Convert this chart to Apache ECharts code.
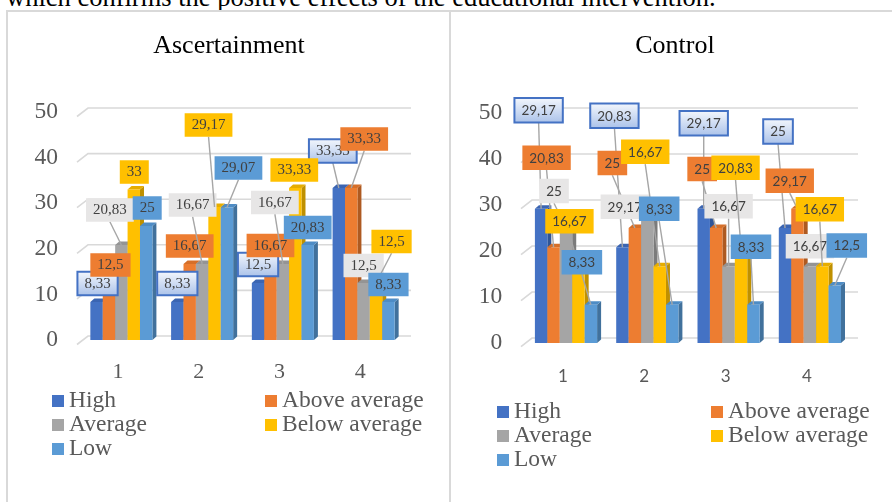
<!DOCTYPE html>
<html>
<head>
<meta charset="utf-8">
<script src="https://cdn.jsdelivr.net/npm/echarts@6/dist/echarts.min.js"></script>
<style>
  html, body { margin: 0; padding: 0; background: #fff; overflow: hidden; }
  #wrap { position: relative; width: 892px; height: 502px; overflow: hidden; }
  #lead { position: absolute; left: 6px; top: -18px; font: 26.5px "Liberation Serif", "Times New Roman", serif;
          line-height: 30px; white-space: nowrap; color: #000; }
  .panel { position: absolute; border: 2px solid #d9d9d9; box-sizing: border-box; }
  #chart { position: absolute; left: 0; top: 0; width: 892px; height: 502px; }
</style>
</head>
<body>
<div id="wrap">
  <div id="lead">which confirms the positive effects of the educational intervention.</div>
  <div class="panel" style="left:6px;top:10px;width:445px;height:520px"></div>
  <div class="panel" style="left:449px;top:10px;width:460px;height:520px"></div>
  <div id="chart"></div>
</div>
<script>
// ---- data ----
const categories = ['1', '2', '3', '4'];
const seriesNames = ['High', 'Above average', 'Average', 'Below average', 'Low'];
const yTicks = [0, 10, 20, 30, 40, 50];

// Ascertainment stage (%)
const ascHigh    = [8.33, 8.33, 12.5, 33.33];
const ascAbove   = [12.5, 16.67, 16.67, 33.33];
const ascAverage = [20.83, 16.67, 16.67, 12.5];
const ascBelow   = [33, 29.17, 33.33, 12.5];
const ascLow     = [25, 29.07, 20.83, 8.33];

// Control stage (%)
const ctlHigh    = [29.17, 20.83, 29.17, 25];
const ctlAbove   = [20.83, 25, 25, 29.17];
const ctlAverage = [25, 29.17, 16.67, 16.67];
const ctlBelow   = [16.67, 16.67, 20.83, 16.67];
const ctlLow     = [8.33, 8.33, 8.33, 12.5];

// ---- label callout placement (pixel shift of each box from its bar top) ----
const ascLabelShift = [
  [[1, -18.5], [0, -18.5], [0, -18.5], [-6, -37]],
  [[1.5, -18], [0, -18], [0, -18.5], [13, -49]],
  [[-11.5, -35], [-9.5, -59], [-8, -61.5], [0, -17.5]],
  [[0.5, -17.5], [-6, -82], [-1, -18], [15.5, -41.5]],
  [[1, -18], [11.5, -39.5], [0, -17.5], [0, -17.5]]
];
const ctlLabelShift = [
  [[-2.5, -98.5], [-8, -131.5], [0, -85.5], [-7, -96.5]],
  [[-7, -89.5], [-22.5, -65], [-14, -59], [-7.7, -28]],
  [[-12, -37], [-22.5, -2], [0, -60], [0, -20]],
  [[-9, -45], [-14.5, -114.5], [-5.5, -79.5], [-2.5, -57]],
  [[-9, -42.5], [-13, -96], [-2.5, -58], [12, -40]]
];

// ---- styling ----
const colors     = ['#4472c4', '#ed7d31', '#a5a5a5', '#ffc000', '#5b9bd5'];
const sideColors = ['#2f5597', '#ae5a21', '#7b7b7b', '#bf9000', '#41719c'];
const topColors  = ['#3b65b2', '#d66f29', '#949494', '#e6ad00', '#4e8cc5'];
const SERIF = '"Liberation Serif", "Times New Roman", serif';
const SANS = 'Lato, "Noto Sans", sans-serif';

const panels = [
  {
    title: 'Ascertainment', titleX: 229,
    values: [ascHigh, ascAbove, ascAverage, ascBelow, ascLow],
    shifts: ascLabelShift,
    grid: { left: 81, top: 112, width: 323, height: 228 },
    barFrac: 0.1537, depth: [4, 3.5],
    wall: { frontX: 77, backX: 88, rightX: 411, frontDy: 4.5, backDy: -4 },
    labelFont: '15px ' + SERIF, padX: 7, boxH: 23.5,
    yLabel: { fontFamily: SERIF, fontSize: 23.5, margin: 23, padding: [8, 0, 0, 0] },
    xLabel: { fontFamily: SERIF, fontSize: 22, margin: 21, padding: [0, 7, 0, 0] },
    legend: { left: 47, top: 384, textWidth: 196, rowH: 23.5 }
  },
  {
    title: 'Control', titleX: 675,
    values: [ctlHigh, ctlAbove, ctlAverage, ctlBelow, ctlLow],
    shifts: ctlLabelShift,
    grid: { left: 525.35, top: 113, width: 325.2, height: 230 },
    barFrac: 0.153, depth: [4, 3.5],
    wall: { frontX: 521, backX: 532, rightX: 858, frontDy: 3.7, backDy: -5 },
    labelFont: '13.5px ' + SANS, padX: 7, boxH: 24.5,
    yLabel: { fontFamily: SERIF, fontSize: 23.5, margin: 23, padding: [7, 0, 0, 0] },
    xLabel: { fontFamily: SANS, fontSize: 17, margin: 25.5, padding: [0, 6, 0, 0] },
    legend: { left: 492, top: 395, textWidth: 197, rowH: 24 }
  }
];

const measureCtx = document.createElement('canvas').getContext('2d');
function textWidth(text, font) {
  measureCtx.font = font;
  return measureCtx.measureText(text).width;
}
function fmt(v) { return String(v).replace('.', ','); }

// back-wall gridlines with the slanted left-wall segment
function gridRenderer(p) {
  return function (params, api) {
    const y = api.coord([0, api.value(1)])[1];
    const w = p.wall;
    return {
      type: 'polyline',
      shape: { points: [[w.frontX, y + w.frontDy], [w.backX, y + w.backDy], [w.rightX, y + w.backDy]] },
      style: { stroke: '#d9d9d9', lineWidth: 1.6, fill: null }
    };
  };
}

// 3D-looking column: side face, top face, front face
function barRenderer(p, s) {
  return function (params, api) {
    const cat = api.value(0), v = api.value(1);
    const top = api.coord([cat, v]);
    const base = api.coord([cat, 0]);
    const band = api.size([1, 0])[0];
    const w = band * p.barFrac;
    const x0 = top[0] - 2.5 * w + s * w;
    const dx = p.depth[0], dy = p.depth[1];
    return {
      type: 'group',
      children: [
        { type: 'polygon',
          shape: { points: [[x0 + w, top[1]], [x0 + w + dx, top[1] - dy], [x0 + w + dx, base[1] - dy], [x0 + w, base[1]]] },
          style: { fill: sideColors[s] } },
        { type: 'polygon',
          shape: { points: [[x0, top[1]], [x0 + dx, top[1] - dy], [x0 + w + dx, top[1] - dy], [x0 + w, top[1]]] },
          style: { fill: topColors[s] } },
        { type: 'rect',
          shape: { x: x0, y: top[1], width: w, height: base[1] - top[1] },
          style: { fill: colors[s] } }
      ]
    };
  };
}

// data callouts: box + text + leader line to the bar top
function labelRenderer(p, s) {
  return function (params, api) {
    const i = params.dataIndex;
    const cat = api.value(0), v = api.value(1);
    const top = api.coord([cat, v]);
    const band = api.size([1, 0])[0];
    const w = band * p.barFrac;
    const cx = top[0] - 2.5 * w + (s + 0.5) * w;
    const sh = p.shifts[s][i];
    const bx = cx + sh[0], by = top[1] + sh[1];
    const text = fmt(v);
    const bw = textWidth(text, p.labelFont) + 2 * p.padX;
    const bh = p.boxH;
    const children = [];
    const startY = by + bh / 2;
    if (top[1] - startY > 8) {
      children.push({
        type: 'line',
        shape: { x1: bx, y1: startY, x2: cx, y2: top[1] },
        style: { stroke: '#a6a6a6', lineWidth: 1.4 }
      });
    }
    let fill = colors[s];
    let stroke = null, lw = 0;
    if (s === 0) {
      fill = new echarts.graphic.LinearGradient(0, 0, 0, 1, [
        { offset: 0, color: '#f5f8fd' }, { offset: 1, color: '#a9c1e9' }
      ]);
      stroke = '#4472c4'; lw = 2;
    } else if (s === 2) {
      fill = '#e7e6e6';
    }
    children.push({
      type: 'rect',
      shape: { x: bx - bw / 2, y: by - bh / 2, width: bw, height: bh },
      style: { fill: fill, stroke: stroke, lineWidth: lw }
    });
    children.push({
      type: 'text',
      x: bx, y: by + 0.5,
      style: { text: text, font: p.labelFont, fill: '#404040', align: 'center', verticalAlign: 'middle' }
    });
    return { type: 'group', children: children };
  };
}

const option = {
  animation: false,
  backgroundColor: 'transparent',
  grid: [], xAxis: [], yAxis: [], series: [], legend: [], graphic: []
};

panels.forEach(function (p, k) {
  option.grid.push(Object.assign({ containLabel: false }, p.grid));
  option.xAxis.push({
    type: 'category', gridIndex: k, data: categories,
    axisLine: { show: false }, axisTick: { show: false }, splitLine: { show: false },
    axisLabel: Object.assign({ color: '#595959' }, p.xLabel)
  });
  option.yAxis.push({
    type: 'value', gridIndex: k, min: 0, max: 50, interval: 10,
    axisLine: { show: false }, axisTick: { show: false }, splitLine: { show: false },
    axisLabel: Object.assign({ color: '#595959' }, p.yLabel)
  });
  option.series.push({
    type: 'custom', name: 'gridlines', xAxisIndex: k, yAxisIndex: k, z: 1, silent: true,
    data: yTicks.map(function (t) { return [0, t]; }),
    encode: { x: 0, y: 1 },
    renderItem: gridRenderer(p)
  });
  p.values.forEach(function (vals, s) {
    option.series.push({
      type: 'custom', name: seriesNames[s], xAxisIndex: k, yAxisIndex: k, z: 2,
      itemStyle: { color: colors[s] },
      data: vals.map(function (v, i) { return [i, v]; }),
      encode: { x: 0, y: 1 },
      renderItem: barRenderer(p, s)
    });
  });
  p.values.forEach(function (vals, s) {
    option.series.push({
      type: 'custom', name: seriesNames[s], xAxisIndex: k, yAxisIndex: k, z: 3,
      itemStyle: { color: colors[s] },
      data: vals.map(function (v, i) { return [i, v]; }),
      encode: { x: 0, y: 1 },
      renderItem: labelRenderer(p, s)
    });
  });
  option.legend.push({
    data: seriesNames.map(function (n, s) { return { name: n, itemStyle: { color: colors[s] } }; }),
    orient: 'horizontal', left: p.legend.left, top: p.legend.top, width: 2 * (17 + p.legend.textWidth) + 4,
    icon: 'rect', itemWidth: 12, itemHeight: 12, itemGap: 0,
    textStyle: { fontFamily: SERIF, fontSize: 23.5, color: '#595959', width: p.legend.textWidth,
                 lineHeight: p.legend.rowH, height: p.legend.rowH }
  });
  option.graphic.push({
    type: 'text', x: p.titleX, y: 46,
    style: { text: p.title, font: '26px ' + SERIF, fill: '#000', align: 'center', verticalAlign: 'middle' }
  });
});

const chart = echarts.init(document.getElementById('chart'), null, { renderer: 'canvas' });
chart.setOption(option);
</script>
</body>
</html>
